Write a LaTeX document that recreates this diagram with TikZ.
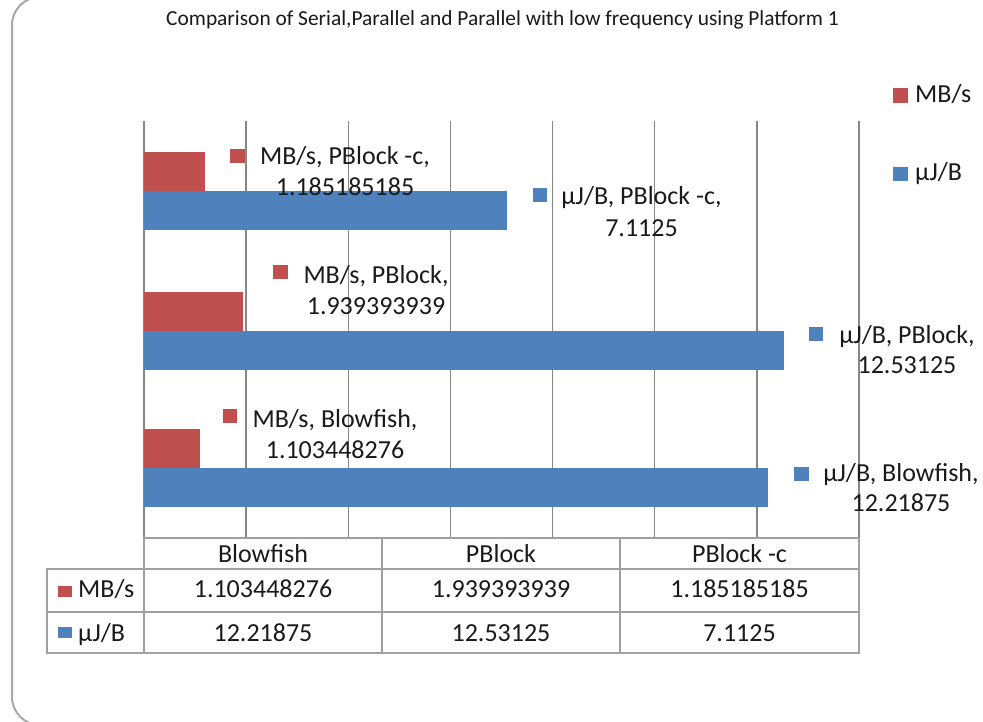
\documentclass[tikz,border=0pt]{standalone}
\usepackage{fontspec}
\setmainfont{Carlito}
\definecolor{serred}{HTML}{C0504D}
\definecolor{serblue}{HTML}{4F81BD}
\definecolor{gridgray}{HTML}{878787}
\definecolor{tabgray}{HTML}{A0A0A0}
\definecolor{framegray}{HTML}{A8A8A8}
\definecolor{txt}{HTML}{1A1A1A}
\begin{document}
\begin{tikzpicture}[x=1pt,y=-1pt,
  lbl/.style={inner sep=0pt, anchor=base, font=\fontsize{26}{31}\selectfont, text=txt},
  rowlbl/.style={inner sep=0pt, anchor=base west, font=\fontsize{26}{31}\selectfont, text=txt},
  ttl/.style={inner sep=0pt, anchor=base, font=\fontsize{21.4}{24}\selectfont, text=txt},
  gridln/.style={draw=gridgray, line width=1.4pt},
  tabln/.style={draw=tabgray, line width=1.6pt},
  redbar/.style={fill=serred},
  bluebar/.style={fill=serblue}]
\useasboundingbox (0,0) rectangle (983,722);
\fill[white] (0,0) rectangle (983,722);
% outer frame (only left side visible)
\draw[framegray, line width=2pt, rounded corners=28pt] (12,-3) rectangle (1100,725);
% title
\node[ttl] (title) at (502.5,25.7) {Comparison of Serial,Parallel and Parallel with low frequency using Platform 1};
% gridlines
\foreach \k in {0,...,7}{
  \draw[gridln] ({144+\k*102.14},121) -- ({144+\k*102.14},538);
}
\draw[gridln] (144,538) -- (859,538);
% bars  (scale: 51.07 px per unit)
\fill[redbar]  (144,152) rectangle ({144+1.185185185*51.07},191);
\fill[bluebar] (144,191) rectangle ({144+7.1125*51.07},230);
\fill[redbar]  (144,292) rectangle ({144+1.939393939*51.07},331);
\fill[bluebar] (144,331) rectangle ({144+12.53125*51.07},370);
\fill[redbar]  (144,429) rectangle ({144+1.103448276*51.07},468);
\fill[bluebar] (144,468) rectangle ({144+12.21875*51.07},507);
% data labels
\fill[serred] (230,149) rectangle (245,163);
\node[lbl] (l1a) at (345,165) {MB/s, PBlock -c,};
\node[lbl] (l1b) at (345,196) {1.185185185};
\fill[serred] (273,265) rectangle (288,279);
\node[lbl] (l2a) at (376,283.3) {MB/s, PBlock,};
\node[lbl] (l2b) at (376,314) {1.939393939};
\fill[serred] (222.7,409) rectangle (236.7,423.3);
\node[lbl] (l3a) at (335,427.3) {MB/s, Blowfish,};
\node[lbl] (l3b) at (335,458.3) {1.103448276};
\fill[serblue] (533,187.7) rectangle (547,201.7);
\node[lbl] (l4a) at (641.5,204.3) {µJ/B, PBlock -c,};
\node[lbl] (l4b) at (641.5,236.7) {7.1125};
\fill[serblue] (809,327) rectangle (823,341);
\node[lbl] (l5a) at (907,343) {µJ/B, PBlock,};
\node[lbl] (l5b) at (907,373) {12.53125};
\fill[serblue] (794,466.5) rectangle (809,480.5);
\node[lbl] (l6a) at (901,481.7) {µJ/B, Blowfish,};
\node[lbl] (l6b) at (901,511.7) {12.21875};
% legend
\fill[serred] (893,88) rectangle (908,103);
\node[rowlbl] (legmb) at (915,103) {MB/s};
\fill[serblue] (893,167) rectangle (908,181);
\node[rowlbl] (leguj) at (915,181) {µJ/B};
% data table
\draw[tabln] (144,538) rectangle (859,569);
\draw[tabln] (47,569) rectangle (859,653);
\draw[tabln] (47,612) -- (859,612);
\draw[tabln] (144,569) -- (144,653);
\draw[tabln] (382,538) -- (382,653);
\draw[tabln] (620,538) -- (620,653);
\node[lbl] (hb) at (263,562.7) {Blowfish};
\node[lbl] (hp) at (501,562.7) {PBlock};
\node[lbl] (hc) at (739.5,562.7) {PBlock -c};
\fill[serred] (58,586) rectangle (72,597);
\node[rowlbl] (rmb) at (78,597) {MB/s};
\fill[serblue] (58,627) rectangle (72,638);
\node[rowlbl] (ruj) at (78,641.7) {µJ/B};
\node[lbl] (c11) at (263,597) {1.103448276};
\node[lbl] (c12) at (501,597) {1.939393939};
\node[lbl] (c13) at (739.5,597) {1.185185185};
\node[lbl] (c21) at (263,641.7) {12.21875};
\node[lbl] (c22) at (501,641.7) {12.53125};
\node[lbl] (c23) at (739.5,641.7) {7.1125};
\end{tikzpicture}
\end{document}
